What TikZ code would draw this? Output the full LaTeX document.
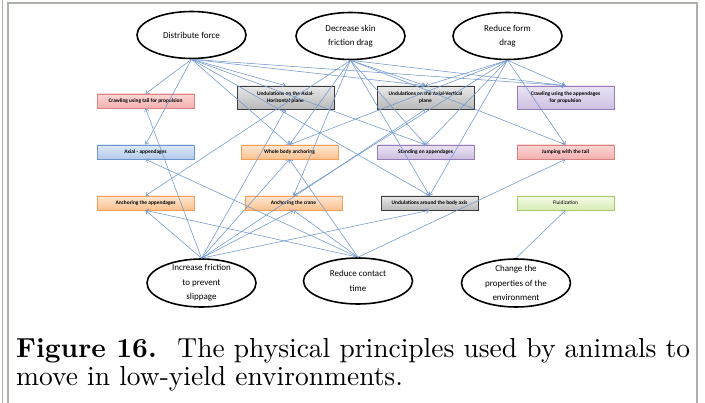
\documentclass[tikz,border=0pt]{standalone}
\usepackage{fontspec}
\newfontfamily\carlito{Carlito}
\newfontfamily\capfont{lmroman10}[Extension=.otf, UprightFont=*-regular, BoldFont=*-bold]
\usetikzlibrary{arrows.meta,shapes.geometric,shadows}
\definecolor{linkblue}{RGB}{112,152,208}
\definecolor{framegray}{RGB}{170,178,170}
\definecolor{redline}{RGB}{217,130,128}\definecolor{redtop}{RGB}{250,214,213}\definecolor{redbot}{RGB}{244,176,175}
\definecolor{grayline}{RGB}{60,60,60}\definecolor{graytop}{RGB}{232,232,232}\definecolor{graybot}{RGB}{185,185,185}
\definecolor{purpleline}{RGB}{150,125,185}\definecolor{purpletop}{RGB}{234,227,243}\definecolor{purplebot}{RGB}{205,192,225}
\definecolor{blueline}{RGB}{110,150,205}\definecolor{bluetop}{RGB}{222,232,247}\definecolor{bluebot}{RGB}{180,202,235}
\definecolor{orangeline}{RGB}{245,160,90}\definecolor{orangetop}{RGB}{254,232,212}\definecolor{orangebot}{RGB}{250,192,140}
\definecolor{greenline}{RGB}{170,200,110}\definecolor{greentop}{RGB}{245,250,232}\definecolor{greenbot}{RGB}{215,235,180}
\begin{document}
\begin{tikzpicture}[x=1pt,y=-1pt,
  prin/.style={ellipse, draw=black, line width=1.6pt, fill=white, minimum width=109pt, minimum height=47pt, inner sep=0pt},
  ptext/.style={inner sep=0pt, align=center, font=\carlito\fontsize{9}{14.5}\selectfont},
  box/.style={rectangle, line width=0.6pt, minimum width=97pt, minimum height=14pt, inner sep=1pt, align=center, font=\carlito\bfseries\fontsize{5.4}{7.2}\selectfont, drop shadow={shadow xshift=0.9pt, shadow yshift=-0.9pt, opacity=0.3}},
  tall/.style={minimum height=23pt},
  redbox/.style={box, draw=redline, top color=redtop, bottom color=redbot},
  graybox/.style={box, draw=grayline, top color=graytop, bottom color=graybot},
  purplebox/.style={box, draw=purpleline, top color=purpletop, bottom color=purplebot},
  bluebox/.style={box, draw=blueline, top color=bluetop, bottom color=bluebot},
  orangebox/.style={box, draw=orangeline, top color=orangetop, bottom color=orangebot},
  greenbox/.style={box, draw=greenline, top color=greentop, bottom color=greenbot},
  link/.style={draw=linkblue, line width=0.55pt, -{Straight Barb[length=3pt,width=4.5pt]}},
  captext/.style={anchor=base west, inner sep=0pt, font=\capfont\fontsize{27.5}{28}\selectfont}
]
\useasboundingbox (0,0) rectangle (705,403);
\fill[white] (0,0) rectangle (705,403);
% frame
\draw[framegray, line width=1.1pt] (8,403) -- (8,3) -- (697,3) -- (697,403);
\draw[framegray, line width=0.8pt] (2,0) -- (2,403);

% principles
\node[prin] (E1) at (191.5,35) {};
\node[ptext] (E1t) at (E1) {Distribute force};
\node[prin] (E2) at (350.5,36) {};
\node[ptext] (E2t) at (E2) {Decrease skin\\friction drag};
\node[prin] (E3) at (507.5,36) {};
\node[ptext] (E3t) at (E3) {Reduce form\\drag};
\node[prin, minimum height=48pt] (F1) at (201.5,283) {};
\node[ptext] (F1t) at (F1) {Increase friction\\to prevent\\slippage};
\node[prin, minimum height=46pt] (F2) at (358,281) {};
\node[ptext] (F2t) at (F2) {Reduce contact\\time};
\node[prin, minimum height=48pt] (F3) at (516,283) {};
\node[ptext] (F3t) at (F3) {Change the\\properties of the\\environment};

% strategies
\node[redbox] (B11) at (145.5,101) {Crawling using tail for propulsion};
\node[graybox, tall] (B12) at (285.5,97.5) {Undulations on the Axial-\\Horizontal plane};
\node[graybox, tall] (B13) at (425.5,97.5) {Undulations on the Axial-Vertical\\plane};
\node[purplebox, tall] (B14) at (565.5,97.5) {Crawling using the appendages\\for propulsion};
\node[bluebox] (B21) at (145.5,152) {Axial - appendages};
\node[orangebox] (B22) at (289.5,152) {Whole body anchoring};
\node[purplebox] (B23) at (425.5,152) {Standing on appendages};
\node[redbox] (B24) at (565.5,152) {Jumping with the tail};
\node[orangebox] (B31) at (145.5,203) {Anchoring the appendages};
\node[orangebox] (B32) at (293.5,203) {Anchoring the crane};
\node[graybox] (B33) at (429.5,203) {Undulations around the body axis};
\node[greenbox, font=\carlito\fontsize{5.4}{7.2}\selectfont] (B34) at (565.5,203) {Fluidization};

% connectors
\foreach \t in {B11,B21,B12,B22,B23,B33,B13,B14} \draw[link] (E1.south) -- (\t.north);
\foreach \t in {B31,B22,B32,B13,B23,B33,B24,B14} \draw[link] (E2.south) -- (\t.north);
\foreach \t in {B13,B14,B22,B23,B24,B32,B33} \draw[link] (E3.south) -- (\t.north);
\foreach \t in {B11,B31,B12,B22,B32,B13,B33} \draw[link] (F1.north) -- (\t.south);
\foreach \t in {B21,B31,B22,B32,B24} \draw[link] (F2.north) -- (\t.south);
\draw[link] (F3.north) -- (B34.south);

% caption
\node[captext] (cap1) at (16,358)
  {\makebox[674pt][s]{\textbf{Figure 16.}\hspace{0.3em} The physical principles used by animals to}};
\node[captext] (cap2) at (16,386) {move in low-yield environments.};
\end{tikzpicture}
\end{document}
